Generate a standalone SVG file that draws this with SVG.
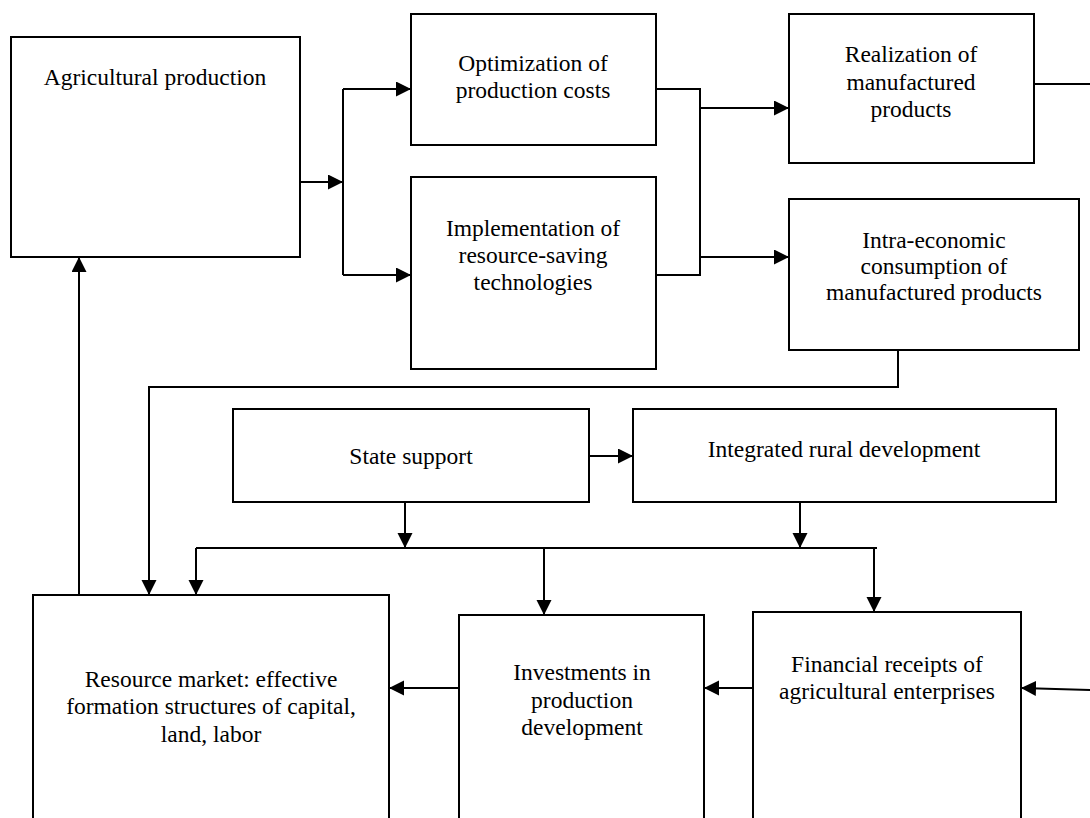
<svg xmlns="http://www.w3.org/2000/svg" width="1090" height="818" viewBox="0 0 1090 818" font-family="Liberation Serif, Times New Roman, serif">
<style>
.box{fill:#fff;stroke:#000;stroke-width:2}
.ln{fill:none;stroke:#000;stroke-width:2}
.arr{marker-end:url(#ah)}
text{font-size:23.5px;fill:#000;text-anchor:middle}
</style>
<defs>
<marker id="ah" markerUnits="userSpaceOnUse" markerWidth="16" markerHeight="16" refX="15" refY="7.5" orient="auto">
<path d="M0,0 L15,7.5 L0,15 z" fill="#000"/>
</marker>
</defs>
<rect width="1090" height="818" fill="#fff"/>
<g id="connectors">
<path class="ln arr" d="M300,182 L343,182"/>
<path class="ln" d="M343,89 L343,275"/>
<path class="ln arr" d="M343,89 L411,89"/>
<path class="ln arr" d="M343,275 L411,275"/>
<path class="ln" d="M656,89 L700,89 L700,275 L656,275"/>
<path class="ln arr" d="M700,108 L789,108"/>
<path class="ln arr" d="M700,257 L789,257"/>
<path class="ln" d="M1034,84 L1090,84"/>
<path class="ln arr" d="M898,350 L898,387 L149,387 L149,595"/>
<path class="ln arr" d="M79,595 L79,257"/>
<path class="ln arr" d="M589,456 L633,456"/>
<path class="ln arr" d="M405,502 L405,548"/>
<path class="ln arr" d="M800,502 L800,548"/>
<path class="ln" d="M196,548 L877,548"/>
<path class="ln arr" d="M196,548 L196,595"/>
<path class="ln arr" d="M544,548 L544,615"/>
<path class="ln arr" d="M874,548 L874,612"/>
<path class="ln arr" d="M753,688 L704,688"/>
<path class="ln arr" d="M459,688 L389,688"/>
<path class="ln arr" d="M1090,690 L1021,688"/>
</g>
<g id="agricultural-production">
<rect class="box" x="11" y="37" width="289" height="220"/>
<text x="155" y="85">Agricultural production</text>
</g>
<g id="optimization">
<rect class="box" x="411" y="14" width="245" height="131"/>
<text x="533" y="71">Optimization of</text>
<text x="533" y="98">production costs</text>
</g>
<g id="implementation">
<rect class="box" x="411" y="177" width="245" height="192"/>
<text x="533" y="236">Implementation of</text>
<text x="533" y="263">resource-saving</text>
<text x="533" y="290">technologies</text>
</g>
<g id="realization">
<rect class="box" x="789" y="14" width="245" height="149"/>
<text x="911" y="62">Realization of</text>
<text x="911" y="90">manufactured</text>
<text x="911" y="117">products</text>
</g>
<g id="intra-economic">
<rect class="box" x="789" y="199" width="290" height="151"/>
<text x="934" y="248">Intra-economic</text>
<text x="934" y="274">consumption of</text>
<text x="934" y="300">manufactured products</text>
</g>
<g id="state-support">
<rect class="box" x="233" y="409" width="356" height="93"/>
<text x="411" y="464">State support</text>
</g>
<g id="integrated-rural">
<rect class="box" x="633" y="409" width="423" height="93"/>
<text x="844" y="457">Integrated rural development</text>
</g>
<g id="resource-market">
<rect class="box" x="33" y="595" width="356" height="240"/>
<text x="211" y="687">Resource market: effective</text>
<text x="211" y="714">formation structures of capital,</text>
<text x="211" y="742">land, labor</text>
</g>
<g id="investments">
<rect class="box" x="459" y="615" width="245" height="220"/>
<text x="582" y="680">Investments in</text>
<text x="582" y="708">production</text>
<text x="582" y="735">development</text>
</g>
<g id="financial-receipts">
<rect class="box" x="753" y="612" width="268" height="220"/>
<text x="887" y="672">Financial receipts of</text>
<text x="887" y="699">agricultural enterprises</text>
</g>
</svg>
